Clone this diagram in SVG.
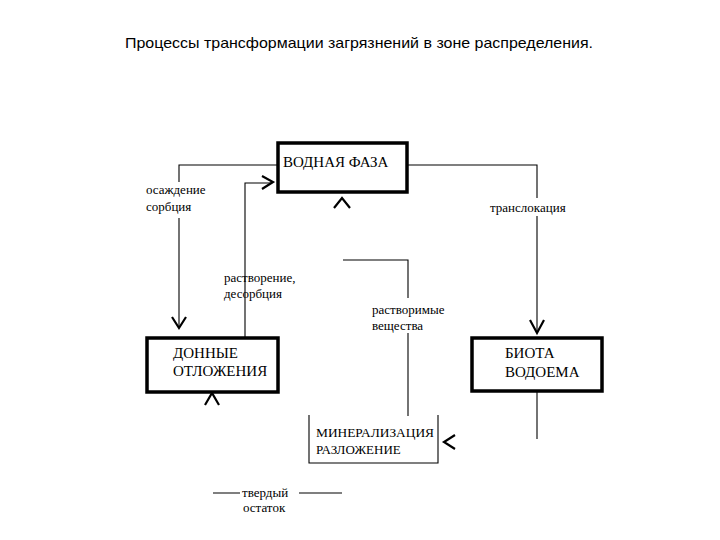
<svg xmlns="http://www.w3.org/2000/svg" width="720" height="540" viewBox="0 0 720 540">
<style>
.t{font-family:"Liberation Serif","Times New Roman",serif;font-size:13px;fill:#000}
.b{font-family:"Liberation Serif","Times New Roman",serif;font-size:15px;fill:#000}
.title{font-family:"Liberation Sans",Arial,sans-serif;font-size:15px;fill:#000}
.ln{fill:none;stroke:#000;stroke-width:1.1}
.thick{fill:#fff;stroke:#000;stroke-width:3.5}
.thin{fill:none;stroke:#000;stroke-width:1.1}
.ah{fill:none;stroke:#000;stroke-width:2.2;stroke-linejoin:miter}
</style>
<rect width="720" height="540" fill="#fff"/>
<text class="title" x="125" y="48" textLength="468" lengthAdjust="spacingAndGlyphs">Процессы трансформации загрязнений в зоне распределения.</text>

<g id="connectors">
  <path class="ln" d="M277,165 H179 V182"/>
  <path class="ln" d="M179,218 V328"/>
  <path class="ah" d="M172,317 L179,328 L186,317"/>
  <path class="ln" d="M245,337 V183 H272"/>
  <path class="ah" d="M262,176 L273,182 L262,189"/>
  <path class="ah" d="M334,208 L342,198 L350,208"/>
  <path class="ln" d="M408,165 H537 V198"/>
  <path class="ln" d="M537,216 V333"/>
  <path class="ah" d="M530,320 L537,333 L544,320"/>
  <path class="ln" d="M343,260 H408 V298"/>
  <path class="ln" d="M408,333 V416"/>
  <path class="ah" d="M205,405 L212,393 L219,405"/>
  <path class="ah" d="M455,435 L444,442 L455,449"/>
  <path class="ln" d="M537,392 V439"/>
  <path class="ln" d="M213,493 H240 M299,493 H342"/>
</g>

<g id="vodnaya">
  <rect class="thick" x="278" y="143" width="129" height="49"/>
  <text class="b" x="283" y="167">ВОДНАЯ ФАЗА</text>
</g>
<g id="donnye">
  <rect class="thick" x="147" y="338" width="131" height="54"/>
  <text class="b" x="173" y="358">ДОННЫЕ</text>
  <text class="b" x="173" y="376">ОТЛОЖЕНИЯ</text>
</g>
<g id="biota">
  <rect class="thick" x="472" y="338" width="130" height="53"/>
  <text class="b" x="505" y="358">БИОТА</text>
  <text class="b" x="505" y="377">ВОДОЕМА</text>
</g>
<g id="mineral">
  <path class="thin" d="M309,415 V463 H438 V415"/>
  <text class="t" x="316" y="437" textLength="118" lengthAdjust="spacingAndGlyphs">МИНЕРАЛИЗАЦИЯ</text>
  <text class="t" x="316" y="454">РАЗЛОЖЕНИЕ</text>
</g>

<g id="labels">
  <text class="t" x="146" y="194">осаждение</text>
  <text class="t" x="146" y="211">сорбция</text>
  <text class="t" x="490" y="212">транслокация</text>
  <text class="t" x="224" y="282">растворение,</text>
  <text class="t" x="224" y="298">десорбция</text>
  <text class="t" x="372" y="314">растворимые</text>
  <text class="t" x="372" y="330">вещества</text>
  <text class="t" x="242" y="497">твердый</text>
  <text class="t" x="243" y="512">остаток</text>
</g>
</svg>
